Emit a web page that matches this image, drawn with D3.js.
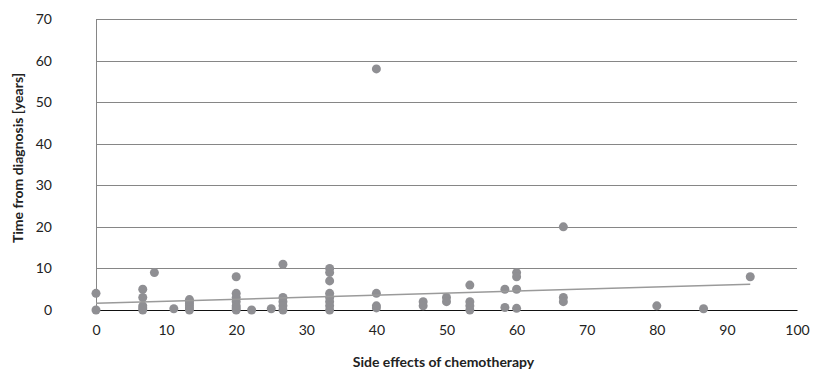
<!DOCTYPE html>
<html>
<head>
<meta charset="utf-8">
<script src="https://cdn.jsdelivr.net/npm/d3@7"></script>
<style>
  body { margin: 0; background: #fff; }
  text { font-family: Lato, "Open Sans", sans-serif; fill: #222; }
</style>
</head>
<body>
<div id="chart"></div>
<script>
// side effects score (x) per group
const sideEffects = [0, 0,
  6.67, 6.67, 6.67, 6.67, 6.67,
  8.33, 11.1,
  13.33, 13.33, 13.33, 13.33, 13.33, 13.33,
  20, 20, 20, 20, 20, 20, 20,
  22.2, 25,
  26.67, 26.67, 26.67, 26.67, 26.67,
  33.33, 33.33, 33.33, 33.33, 33.33, 33.33, 33.33, 33.33,
  40, 40, 40, 40,
  46.67, 46.67, 50, 50,
  53.33, 53.33, 53.33, 53.33,
  58.33, 58.33,
  60, 60, 60, 60,
  66.67, 66.67, 66.67,
  80, 86.67, 93.33];
// time from diagnosis (years)
const yearsSince = [4, 0,
  5, 3, 1, 0.5, 0,
  9, 0.3,
  2.5, 2, 1.5, 1, 0.5, 0,
  8, 4, 3, 2, 1, 0.5, 0,
  0, 0.3,
  11, 3, 2, 1, 0,
  10, 9, 7, 4, 3, 2, 1, 0,
  58, 4, 1, 0.5,
  2, 1, 3, 2,
  6, 2, 1, 0,
  5, 0.6,
  9, 8, 5, 0.4,
  20, 3, 2,
  1, 0.3, 8];
// linear trendline endpoints
const trendX = [0, 93.33];
const trendY = [1.6, 6.2];

const xTicks = d3.range(0, 101, 10);
const yTicks = d3.range(0, 71, 10);

const w = 813, h = 371;
const margin = {top: 19, right: 16, bottom: 61, left: 96};
const width = w - margin.left - margin.right;
const height = h - margin.top - margin.bottom;

const svg = d3.select('#chart').append('svg')
  .attr('width', w).attr('height', h);

const g = svg.append('g')
  .attr('transform', 'translate(' + margin.left + ',' + margin.top + ')');

const x = d3.scaleLinear().domain([0, 100]).range([0, width]);
const y = d3.scaleLinear().domain([0, 70]).range([height, 0]);

// gridlines
g.append('g')
  .selectAll('line')
  .data(yTicks.filter(d => d > 0))
  .enter().append('line')
  .attr('x1', 0).attr('x2', width)
  .attr('y1', d => Math.round(y(d)) + 0.5).attr('y2', d => Math.round(y(d)) + 0.5)
  .attr('stroke', '#868686').attr('stroke-width', 1);

// y axis
const yAxis = g.append('g')
  .call(d3.axisLeft(y).tickValues(yTicks).tickSize(0).tickPadding(44));
yAxis.select('.domain').attr('stroke', '#868686');
yAxis.selectAll('text').style('font-size', '14px').attr('fill', '#222');

// x axis
const xAxis = g.append('g')
  .attr('transform', 'translate(0,' + height + ')')
  .call(d3.axisBottom(x).tickValues(xTicks).tickSize(0).tickPadding(15));
xAxis.select('.domain').attr('stroke', '#111');
xAxis.selectAll('text').style('font-size', '14px').attr('fill', '#222');

// points
const pts = sideEffects.map((d, i) => ({x: d, y: yearsSince[i]}));
g.append('g')
  .selectAll('circle')
  .data(pts)
  .enter().append('circle')
  .attr('cx', d => x(d.x))
  .attr('cy', d => y(d.y))
  .attr('r', 4.5)
  .attr('fill', '#8f8f93');

// trendline
g.append('line')
  .attr('x1', x(trendX[0])).attr('y1', y(trendY[0]))
  .attr('x2', x(trendX[1])).attr('y2', y(trendY[1]))
  .attr('stroke', '#9a9a9a').attr('stroke-width', 1.5);

// axis titles
svg.append('text')
  .attr('x', margin.left + width / 2 - 3)
  .attr('y', 367)
  .attr('text-anchor', 'middle')
  .style('font-size', '14px').style('font-weight', 'bold')
  .text('Side effects of chemotherapy');

svg.append('text')
  .attr('transform', 'translate(23,158) rotate(-90)')
  .attr('text-anchor', 'middle')
  .style('font-size', '14px').style('font-weight', 'bold')
  .text('Time from diagnosis [years]');
</script>
</body>
</html>
